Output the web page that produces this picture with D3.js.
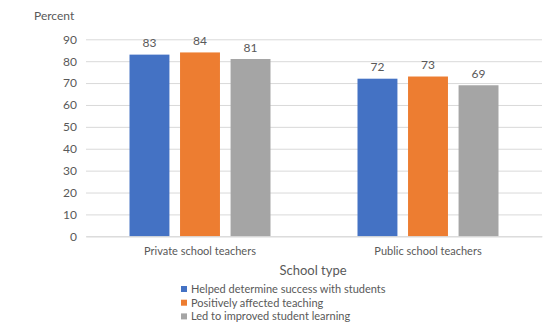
<!DOCTYPE html>
<html><head><meta charset="utf-8">
<script src="https://cdn.jsdelivr.net/npm/d3@7"></script>
<style>body{margin:0;background:#fff}text{font-family:Lato,sans-serif;fill:#595959}</style>
</head><body><svg id="c" width="554" height="323"></svg>
<script>
const categories = ["Private school teachers", "Public school teachers"];
const seriesNames = ["Helped determine success with students", "Positively affected teaching", "Led to improved student learning"];
const helped = [83, 72];
const positively = [84, 73];
const improved = [81, 69];
const yTicks = [0,10,20,30,40,50,60,70,80,90];
const colors = ["#4472C4", "#ED7D31", "#A5A5A5"];
const series = [helped, positively, improved];

const svg = d3.select("#c");
const L = 86, R = 542, T = 39.3, B = 236.3;
const y = d3.scaleLinear().domain([0, 90]).range([B, T]);
const x0 = d3.scaleBand().domain(categories).range([L, R]).padding(0);
const x1 = d3.scaleBand().domain(d3.range(series.length)).range([x0.bandwidth()/2 - 70.5, x0.bandwidth()/2 + 70.5]).paddingInner(0.21);

const yAxis = d3.axisLeft(y).tickValues(yTicks).tickSize(-(R - L)).tickPadding(9);
const ga = svg.append("g").attr("transform", `translate(${L},0)`).call(yAxis);
ga.select(".domain").remove();
ga.selectAll(".tick line").attr("stroke", "#D9D9D9").attr("stroke-width", 1);
ga.selectAll(".tick text").style("font-size", "12px").style("font-family", "Lato").attr("fill", "#595959");

categories.forEach((c, ci) => {
  series.forEach((s, si) => {
    const bx = x0(c) + x1(si);
    svg.append("rect").attr("x", bx).attr("y", y(s[ci])).attr("width", x1.bandwidth())
      .attr("height", y(0) - y(s[ci])).attr("fill", colors[si]);
    svg.append("text").attr("x", bx + x1.bandwidth()/2).attr("y", y(s[ci]) - 7.5)
      .attr("text-anchor", "middle").style("font-size", "12px").text(s[ci]);
  });
});

const xa = svg.append("g").attr("transform", `translate(0,${B})`).call(d3.axisBottom(x0).tickSize(0).tickPadding(11));
xa.select(".domain").attr("stroke", "#D9D9D9");
xa.selectAll(".tick text").style("font-size", "11px").style("font-family", "Lato").attr("fill", "#595959");

svg.append("text").attr("x", 34).attr("y", 19.5).style("font-size", "12px").text("Percent");
svg.append("text").attr("x", 313).attr("y", 275).attr("text-anchor", "middle").style("font-size", "13px").text("School type");

seriesNames.forEach((n, i) => {
  const ly = 289 + i * 13.7;
  svg.append("rect").attr("x", 181).attr("y", ly - 3).attr("width", 6).attr("height", 6).attr("fill", colors[i]);
  svg.append("text").attr("x", 191).attr("y", ly + 4).style("font-size", "11px").text(n);
});
</script></body></html>
